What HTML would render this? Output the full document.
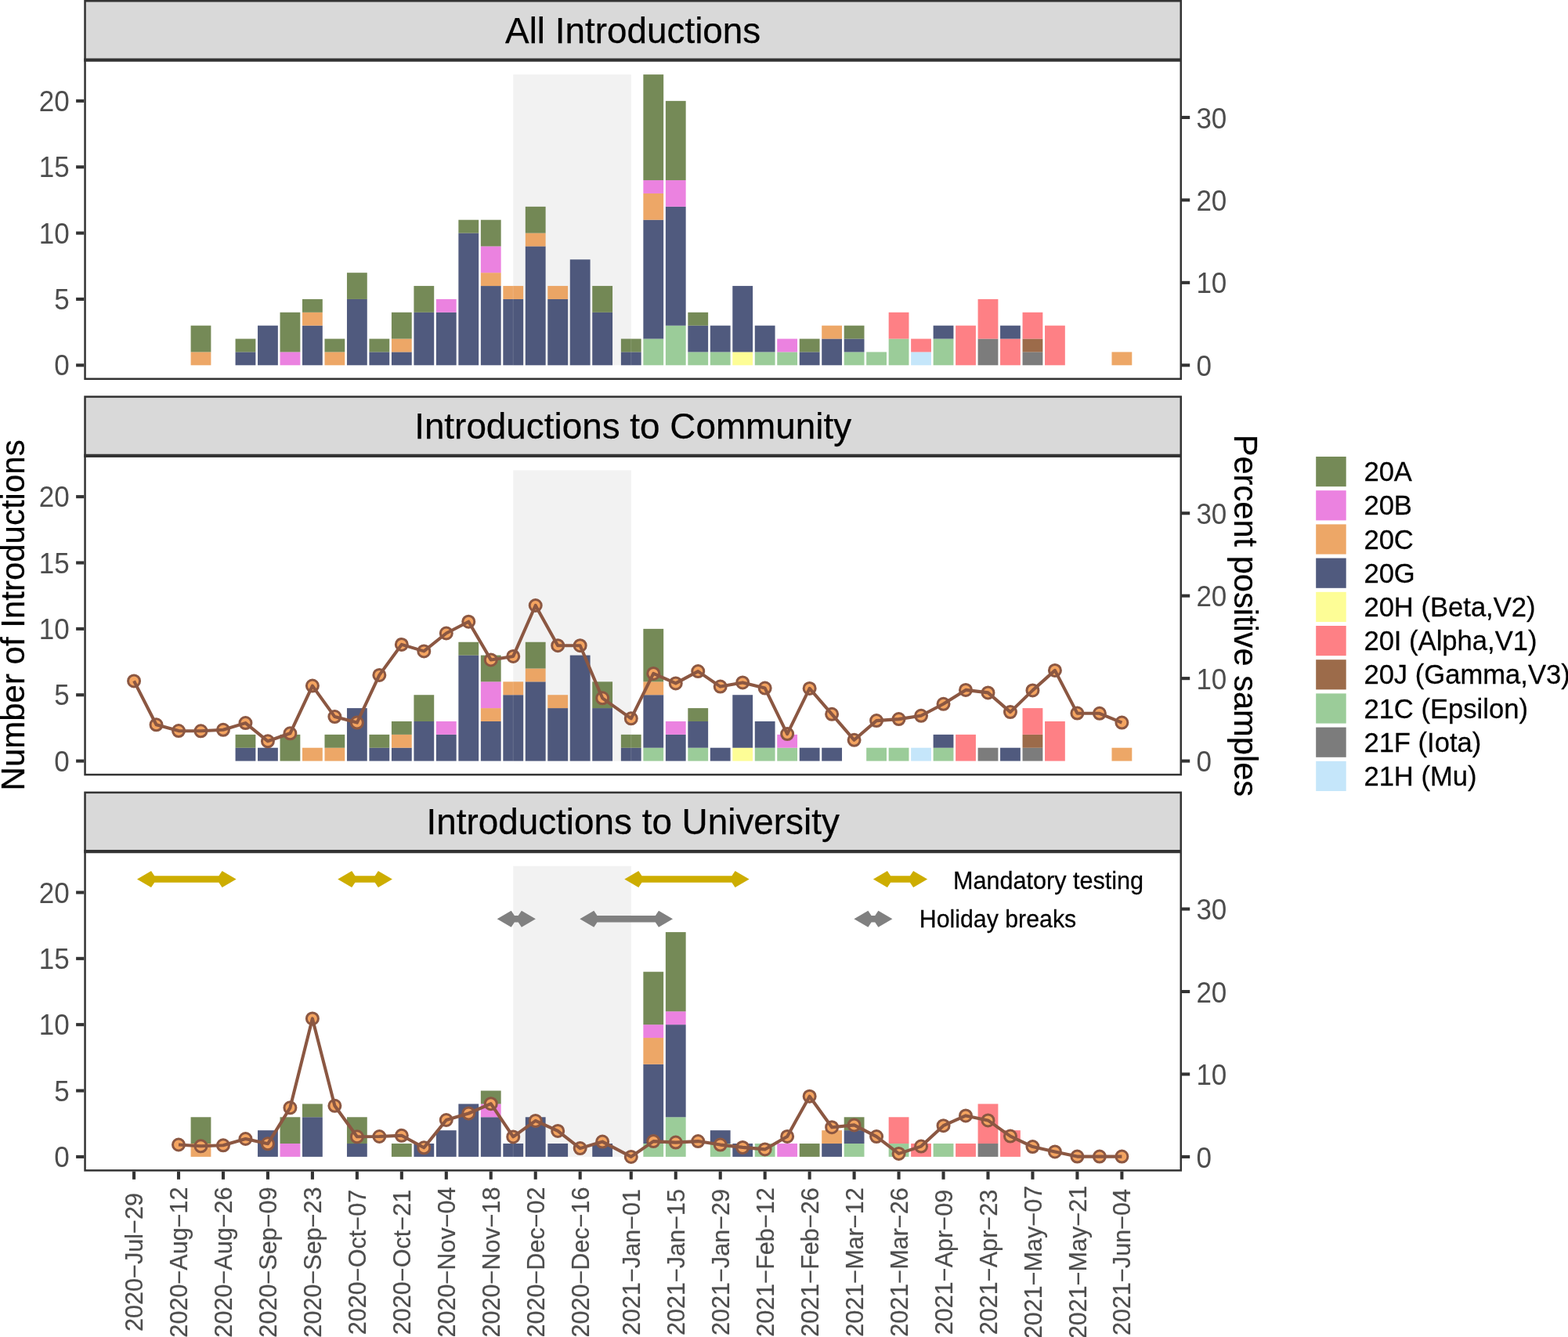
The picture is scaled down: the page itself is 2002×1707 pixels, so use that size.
<!DOCTYPE html>
<html lang="en"><head><meta charset="utf-8">
<title>Number of introductions by clade over time</title>
<style>
html,body{margin:0;padding:0;background:#fff;}
body{width:2002px;height:1707px;overflow:hidden;}
svg{display:block;}
text{font-family:"Liberation Sans", sans-serif;}
.tk{fill:#4d4d4d;}
.bk{fill:#000;stroke:#000;stroke-width:0.25px;}
</style></head><body>
<svg width="2002" height="1707" viewBox="0 0 2002 1707" role="img" aria-label="Number of introductions and percent positive samples over time">
<rect x="0" y="0" width="2002" height="1707" fill="#ffffff"/>
<g id="panel1">
<rect x="655.24" y="95.12" width="150.55" height="371.18" fill="#F2F2F2"/>
<g fill-opacity="0.8">
<rect x="243.59" y="449.43" width="25.8" height="16.87" fill="#E89141"/>
<rect x="243.59" y="415.68" width="25.8" height="33.74" fill="#536D2D"/>
<rect x="300.56" y="449.43" width="25.8" height="16.87" fill="#24315E"/>
<rect x="300.56" y="432.56" width="25.8" height="16.87" fill="#536D2D"/>
<rect x="329.04" y="415.68" width="25.8" height="50.62" fill="#24315E"/>
<rect x="357.52" y="449.43" width="25.8" height="16.87" fill="#E663D8"/>
<rect x="357.52" y="398.81" width="25.8" height="50.62" fill="#536D2D"/>
<rect x="386" y="415.68" width="25.8" height="50.62" fill="#24315E"/>
<rect x="386" y="398.81" width="25.8" height="16.87" fill="#E89141"/>
<rect x="386" y="381.94" width="25.8" height="16.87" fill="#536D2D"/>
<rect x="414.48" y="449.43" width="25.8" height="16.87" fill="#E89141"/>
<rect x="414.48" y="432.56" width="25.8" height="16.87" fill="#536D2D"/>
<rect x="442.97" y="381.94" width="25.8" height="84.36" fill="#24315E"/>
<rect x="442.97" y="348.2" width="25.8" height="33.74" fill="#536D2D"/>
<rect x="471.45" y="449.43" width="25.8" height="16.87" fill="#24315E"/>
<rect x="471.45" y="432.56" width="25.8" height="16.87" fill="#536D2D"/>
<rect x="499.93" y="449.43" width="25.8" height="16.87" fill="#24315E"/>
<rect x="499.93" y="432.56" width="25.8" height="16.87" fill="#E89141"/>
<rect x="499.93" y="398.81" width="25.8" height="33.74" fill="#536D2D"/>
<rect x="528.41" y="398.81" width="25.8" height="67.49" fill="#24315E"/>
<rect x="528.41" y="365.07" width="25.8" height="33.74" fill="#536D2D"/>
<rect x="556.89" y="398.81" width="25.8" height="67.49" fill="#24315E"/>
<rect x="556.89" y="381.94" width="25.8" height="16.87" fill="#E663D8"/>
<rect x="585.37" y="297.58" width="25.8" height="168.72" fill="#24315E"/>
<rect x="585.37" y="280.71" width="25.8" height="16.87" fill="#536D2D"/>
<rect x="613.86" y="365.07" width="25.8" height="101.23" fill="#24315E"/>
<rect x="613.86" y="348.2" width="25.8" height="16.87" fill="#E89141"/>
<rect x="613.86" y="314.45" width="25.8" height="33.74" fill="#E663D8"/>
<rect x="613.86" y="280.71" width="25.8" height="33.74" fill="#536D2D"/>
<rect x="642.34" y="381.94" width="25.8" height="84.36" fill="#24315E"/>
<rect x="642.34" y="365.07" width="25.8" height="16.87" fill="#E89141"/>
<rect x="670.82" y="314.45" width="25.8" height="151.85" fill="#24315E"/>
<rect x="670.82" y="297.58" width="25.8" height="16.87" fill="#E89141"/>
<rect x="670.82" y="263.84" width="25.8" height="33.74" fill="#536D2D"/>
<rect x="699.3" y="381.94" width="25.8" height="84.36" fill="#24315E"/>
<rect x="699.3" y="365.07" width="25.8" height="16.87" fill="#E89141"/>
<rect x="727.78" y="331.32" width="25.8" height="134.98" fill="#24315E"/>
<rect x="756.26" y="398.81" width="25.8" height="67.49" fill="#24315E"/>
<rect x="756.26" y="365.07" width="25.8" height="33.74" fill="#536D2D"/>
<rect x="792.88" y="449.43" width="25.8" height="16.87" fill="#24315E"/>
<rect x="792.88" y="432.56" width="25.8" height="16.87" fill="#536D2D"/>
<rect x="821.36" y="432.56" width="25.8" height="33.74" fill="#82BF80"/>
<rect x="821.36" y="280.71" width="25.8" height="151.85" fill="#24315E"/>
<rect x="821.36" y="246.96" width="25.8" height="33.74" fill="#E89141"/>
<rect x="821.36" y="230.09" width="25.8" height="16.87" fill="#E663D8"/>
<rect x="821.36" y="95.12" width="25.8" height="134.98" fill="#536D2D"/>
<rect x="849.85" y="415.68" width="25.8" height="50.62" fill="#82BF80"/>
<rect x="849.85" y="263.84" width="25.8" height="151.85" fill="#24315E"/>
<rect x="849.85" y="230.09" width="25.8" height="33.74" fill="#E663D8"/>
<rect x="849.85" y="128.86" width="25.8" height="101.23" fill="#536D2D"/>
<rect x="878.33" y="449.43" width="25.8" height="16.87" fill="#82BF80"/>
<rect x="878.33" y="415.68" width="25.8" height="33.74" fill="#24315E"/>
<rect x="878.33" y="398.81" width="25.8" height="16.87" fill="#536D2D"/>
<rect x="906.81" y="449.43" width="25.8" height="16.87" fill="#82BF80"/>
<rect x="906.81" y="415.68" width="25.8" height="33.74" fill="#24315E"/>
<rect x="935.29" y="449.43" width="25.8" height="16.87" fill="#FCFC7C"/>
<rect x="935.29" y="365.07" width="25.8" height="84.36" fill="#24315E"/>
<rect x="963.77" y="449.43" width="25.8" height="16.87" fill="#82BF80"/>
<rect x="963.77" y="415.68" width="25.8" height="33.74" fill="#24315E"/>
<rect x="992.25" y="449.43" width="25.8" height="16.87" fill="#82BF80"/>
<rect x="992.25" y="432.56" width="25.8" height="16.87" fill="#E663D8"/>
<rect x="1020.74" y="449.43" width="25.8" height="16.87" fill="#24315E"/>
<rect x="1020.74" y="432.56" width="25.8" height="16.87" fill="#536D2D"/>
<rect x="1049.22" y="432.56" width="25.8" height="33.74" fill="#24315E"/>
<rect x="1049.22" y="415.68" width="25.8" height="16.87" fill="#E89141"/>
<rect x="1077.7" y="449.43" width="25.8" height="16.87" fill="#82BF80"/>
<rect x="1077.7" y="432.56" width="25.8" height="16.87" fill="#24315E"/>
<rect x="1077.7" y="415.68" width="25.8" height="16.87" fill="#536D2D"/>
<rect x="1106.18" y="449.43" width="25.8" height="16.87" fill="#82BF80"/>
<rect x="1134.66" y="432.56" width="25.8" height="33.74" fill="#82BF80"/>
<rect x="1134.66" y="398.81" width="25.8" height="33.74" fill="#FE6067"/>
<rect x="1163.14" y="449.43" width="25.8" height="16.87" fill="#B6E0F9"/>
<rect x="1163.14" y="432.56" width="25.8" height="16.87" fill="#FE6067"/>
<rect x="1191.63" y="432.56" width="25.8" height="33.74" fill="#82BF80"/>
<rect x="1191.63" y="415.68" width="25.8" height="16.87" fill="#24315E"/>
<rect x="1220.11" y="415.68" width="25.8" height="50.62" fill="#FE6067"/>
<rect x="1248.59" y="432.56" width="25.8" height="33.74" fill="#5B5B5B"/>
<rect x="1248.59" y="381.94" width="25.8" height="50.62" fill="#FE6067"/>
<rect x="1277.07" y="432.56" width="25.8" height="33.74" fill="#FE6067"/>
<rect x="1277.07" y="415.68" width="25.8" height="16.87" fill="#24315E"/>
<rect x="1305.55" y="449.43" width="25.8" height="16.87" fill="#5B5B5B"/>
<rect x="1305.55" y="432.56" width="25.8" height="16.87" fill="#83461D"/>
<rect x="1305.55" y="398.81" width="25.8" height="33.74" fill="#FE6067"/>
<rect x="1334.03" y="415.68" width="25.8" height="50.62" fill="#FE6067"/>
<rect x="1419.48" y="449.43" width="25.8" height="16.87" fill="#E89141"/>
</g>
<line x1="655.24" y1="365.07" x2="655.24" y2="466.3" stroke="#ffffff" stroke-opacity="0.16" stroke-width="0.9"/>
<line x1="805.78" y1="432.56" x2="805.78" y2="466.3" stroke="#ffffff" stroke-opacity="0.16" stroke-width="0.9"/>
<rect x="107.3" y="0" width="1401.7" height="76.6" fill="#D9D9D9"/>
<text class="bk" x="808.15" y="54.8" font-size="45.85" text-anchor="middle">All Introductions</text>
<rect x="108.55" y="1.25" width="1399.2" height="482.5" fill="none" stroke="#333333" stroke-width="2.5"/>
<line x1="107.3" y1="76.6" x2="1509" y2="76.6" stroke="#333333" stroke-width="4.2"/>
<g stroke="#333333" stroke-width="4.1">
<line x1="97.1" y1="466.3" x2="107.3" y2="466.3"/>
<line x1="97.1" y1="381.94" x2="107.3" y2="381.94"/>
<line x1="97.1" y1="297.58" x2="107.3" y2="297.58"/>
<line x1="97.1" y1="213.22" x2="107.3" y2="213.22"/>
<line x1="97.1" y1="128.86" x2="107.3" y2="128.86"/>
<line x1="1509" y1="466.3" x2="1519.2" y2="466.3"/>
<line x1="1509" y1="360.85" x2="1519.2" y2="360.85"/>
<line x1="1509" y1="255.4" x2="1519.2" y2="255.4"/>
<line x1="1509" y1="149.95" x2="1519.2" y2="149.95"/>
</g>
<g class="tk" font-size="35" text-anchor="end">
<text transform="translate(88.6 479.4) scale(1 1.04)">0</text>
<text transform="translate(88.6 395.04) scale(1 1.04)">5</text>
<text transform="translate(88.6 310.68) scale(1 1.04)">10</text>
<text transform="translate(88.6 226.32) scale(1 1.04)">15</text>
<text transform="translate(88.6 141.96) scale(1 1.04)">20</text>
</g>
<g class="tk" font-size="35">
<text transform="translate(1527.4 479.9) scale(1 1.04)">0</text>
<text transform="translate(1527.4 374.45) scale(1 1.04)">10</text>
<text transform="translate(1527.4 269) scale(1 1.04)">20</text>
<text transform="translate(1527.4 163.55) scale(1 1.04)">30</text>
</g>
</g>
<g id="panel2">
<rect x="655.24" y="600.42" width="150.55" height="371.18" fill="#F2F2F2"/>
<g fill-opacity="0.8">
<rect x="300.56" y="954.73" width="25.8" height="16.87" fill="#24315E"/>
<rect x="300.56" y="937.86" width="25.8" height="16.87" fill="#536D2D"/>
<rect x="329.04" y="954.73" width="25.8" height="16.87" fill="#24315E"/>
<rect x="357.52" y="937.86" width="25.8" height="33.74" fill="#536D2D"/>
<rect x="386" y="954.73" width="25.8" height="16.87" fill="#E89141"/>
<rect x="414.48" y="954.73" width="25.8" height="16.87" fill="#E89141"/>
<rect x="414.48" y="937.86" width="25.8" height="16.87" fill="#536D2D"/>
<rect x="442.97" y="904.11" width="25.8" height="67.49" fill="#24315E"/>
<rect x="471.45" y="954.73" width="25.8" height="16.87" fill="#24315E"/>
<rect x="471.45" y="937.86" width="25.8" height="16.87" fill="#536D2D"/>
<rect x="499.93" y="954.73" width="25.8" height="16.87" fill="#24315E"/>
<rect x="499.93" y="937.86" width="25.8" height="16.87" fill="#E89141"/>
<rect x="499.93" y="920.98" width="25.8" height="16.87" fill="#536D2D"/>
<rect x="528.41" y="920.98" width="25.8" height="50.62" fill="#24315E"/>
<rect x="528.41" y="887.24" width="25.8" height="33.74" fill="#536D2D"/>
<rect x="556.89" y="937.86" width="25.8" height="33.74" fill="#24315E"/>
<rect x="556.89" y="920.98" width="25.8" height="16.87" fill="#E663D8"/>
<rect x="585.37" y="836.62" width="25.8" height="134.98" fill="#24315E"/>
<rect x="585.37" y="819.75" width="25.8" height="16.87" fill="#536D2D"/>
<rect x="613.86" y="920.98" width="25.8" height="50.62" fill="#24315E"/>
<rect x="613.86" y="904.11" width="25.8" height="16.87" fill="#E89141"/>
<rect x="613.86" y="870.37" width="25.8" height="33.74" fill="#E663D8"/>
<rect x="613.86" y="836.62" width="25.8" height="33.74" fill="#536D2D"/>
<rect x="642.34" y="887.24" width="25.8" height="84.36" fill="#24315E"/>
<rect x="642.34" y="870.37" width="25.8" height="16.87" fill="#E89141"/>
<rect x="670.82" y="870.37" width="25.8" height="101.23" fill="#24315E"/>
<rect x="670.82" y="853.5" width="25.8" height="16.87" fill="#E89141"/>
<rect x="670.82" y="819.75" width="25.8" height="33.74" fill="#536D2D"/>
<rect x="699.3" y="904.11" width="25.8" height="67.49" fill="#24315E"/>
<rect x="699.3" y="887.24" width="25.8" height="16.87" fill="#E89141"/>
<rect x="727.78" y="836.62" width="25.8" height="134.98" fill="#24315E"/>
<rect x="756.26" y="904.11" width="25.8" height="67.49" fill="#24315E"/>
<rect x="756.26" y="870.37" width="25.8" height="33.74" fill="#536D2D"/>
<rect x="792.88" y="954.73" width="25.8" height="16.87" fill="#24315E"/>
<rect x="792.88" y="937.86" width="25.8" height="16.87" fill="#536D2D"/>
<rect x="821.36" y="954.73" width="25.8" height="16.87" fill="#82BF80"/>
<rect x="821.36" y="887.24" width="25.8" height="67.49" fill="#24315E"/>
<rect x="821.36" y="870.37" width="25.8" height="16.87" fill="#E89141"/>
<rect x="821.36" y="802.88" width="25.8" height="67.49" fill="#536D2D"/>
<rect x="849.85" y="937.86" width="25.8" height="33.74" fill="#24315E"/>
<rect x="849.85" y="920.98" width="25.8" height="16.87" fill="#E663D8"/>
<rect x="878.33" y="954.73" width="25.8" height="16.87" fill="#82BF80"/>
<rect x="878.33" y="920.98" width="25.8" height="33.74" fill="#24315E"/>
<rect x="878.33" y="904.11" width="25.8" height="16.87" fill="#536D2D"/>
<rect x="906.81" y="954.73" width="25.8" height="16.87" fill="#24315E"/>
<rect x="935.29" y="954.73" width="25.8" height="16.87" fill="#FCFC7C"/>
<rect x="935.29" y="887.24" width="25.8" height="67.49" fill="#24315E"/>
<rect x="963.77" y="954.73" width="25.8" height="16.87" fill="#82BF80"/>
<rect x="963.77" y="920.98" width="25.8" height="33.74" fill="#24315E"/>
<rect x="992.25" y="954.73" width="25.8" height="16.87" fill="#82BF80"/>
<rect x="992.25" y="937.86" width="25.8" height="16.87" fill="#E663D8"/>
<rect x="1020.74" y="954.73" width="25.8" height="16.87" fill="#24315E"/>
<rect x="1049.22" y="954.73" width="25.8" height="16.87" fill="#24315E"/>
<rect x="1106.18" y="954.73" width="25.8" height="16.87" fill="#82BF80"/>
<rect x="1134.66" y="954.73" width="25.8" height="16.87" fill="#82BF80"/>
<rect x="1163.14" y="954.73" width="25.8" height="16.87" fill="#B6E0F9"/>
<rect x="1191.63" y="954.73" width="25.8" height="16.87" fill="#82BF80"/>
<rect x="1191.63" y="937.86" width="25.8" height="16.87" fill="#24315E"/>
<rect x="1220.11" y="937.86" width="25.8" height="33.74" fill="#FE6067"/>
<rect x="1248.59" y="954.73" width="25.8" height="16.87" fill="#5B5B5B"/>
<rect x="1277.07" y="954.73" width="25.8" height="16.87" fill="#24315E"/>
<rect x="1305.55" y="954.73" width="25.8" height="16.87" fill="#5B5B5B"/>
<rect x="1305.55" y="937.86" width="25.8" height="16.87" fill="#83461D"/>
<rect x="1305.55" y="904.11" width="25.8" height="33.74" fill="#FE6067"/>
<rect x="1334.03" y="920.98" width="25.8" height="50.62" fill="#FE6067"/>
<rect x="1419.48" y="954.73" width="25.8" height="16.87" fill="#E89141"/>
</g>
<line x1="655.24" y1="870.37" x2="655.24" y2="971.6" stroke="#ffffff" stroke-opacity="0.16" stroke-width="0.9"/>
<line x1="805.78" y1="937.86" x2="805.78" y2="971.6" stroke="#ffffff" stroke-opacity="0.16" stroke-width="0.9"/>
<g fill="#F4A460" stroke="#8B5742" stroke-width="3">
<circle cx="171.05" cy="869.4" r="7.5"/>
<circle cx="199.53" cy="925.3" r="7.5"/>
<circle cx="228.01" cy="933.1" r="7.5"/>
<circle cx="256.49" cy="933.3" r="7.5"/>
<circle cx="284.98" cy="931.8" r="7.5"/>
<circle cx="313.46" cy="923.1" r="7.5"/>
<circle cx="341.94" cy="946.3" r="7.5"/>
<circle cx="370.42" cy="936.3" r="7.5"/>
<circle cx="398.9" cy="875.6" r="7.5"/>
<circle cx="427.38" cy="915.1" r="7.5"/>
<circle cx="455.87" cy="922.6" r="7.5"/>
<circle cx="484.35" cy="861.9" r="7.5"/>
<circle cx="512.83" cy="822.9" r="7.5"/>
<circle cx="541.31" cy="831.4" r="7.5"/>
<circle cx="569.79" cy="808.5" r="7.5"/>
<circle cx="598.27" cy="793.7" r="7.5"/>
<circle cx="626.76" cy="842.4" r="7.5"/>
<circle cx="655.24" cy="837.9" r="7.5"/>
<circle cx="683.72" cy="773" r="7.5"/>
<circle cx="712.2" cy="824.2" r="7.5"/>
<circle cx="740.68" cy="824.2" r="7.5"/>
<circle cx="769.16" cy="891.3" r="7.5"/>
<circle cx="805.78" cy="917.3" r="7.5"/>
<circle cx="834.26" cy="859.9" r="7.5"/>
<circle cx="862.75" cy="872.4" r="7.5"/>
<circle cx="891.23" cy="857.1" r="7.5"/>
<circle cx="919.71" cy="876.6" r="7.5"/>
<circle cx="948.19" cy="871.4" r="7.5"/>
<circle cx="976.67" cy="878.6" r="7.5"/>
<circle cx="1005.15" cy="937.1" r="7.5"/>
<circle cx="1033.64" cy="878.9" r="7.5"/>
<circle cx="1062.12" cy="911.8" r="7.5"/>
<circle cx="1090.6" cy="944.8" r="7.5"/>
<circle cx="1119.08" cy="920.1" r="7.5"/>
<circle cx="1147.56" cy="918.1" r="7.5"/>
<circle cx="1176.04" cy="913.8" r="7.5"/>
<circle cx="1204.53" cy="898.8" r="7.5"/>
<circle cx="1233.01" cy="880.9" r="7.5"/>
<circle cx="1261.49" cy="884.4" r="7.5"/>
<circle cx="1289.97" cy="909.1" r="7.5"/>
<circle cx="1318.45" cy="881.4" r="7.5"/>
<circle cx="1346.93" cy="855.9" r="7.5"/>
<circle cx="1375.41" cy="910.6" r="7.5"/>
<circle cx="1403.9" cy="910.8" r="7.5"/>
<circle cx="1432.38" cy="922.6" r="7.5"/>
</g>
<polyline fill="none" stroke="#8B5742" stroke-width="4.1" stroke-linejoin="round" points="171.05,869.4 199.53,925.3 228.01,933.1 256.49,933.3 284.98,931.8 313.46,923.1 341.94,946.3 370.42,936.3 398.9,875.6 427.38,915.1 455.87,922.6 484.35,861.9 512.83,822.9 541.31,831.4 569.79,808.5 598.27,793.7 626.76,842.4 655.24,837.9 683.72,773 712.2,824.2 740.68,824.2 769.16,891.3 805.78,917.3 834.26,859.9 862.75,872.4 891.23,857.1 919.71,876.6 948.19,871.4 976.67,878.6 1005.15,937.1 1033.64,878.9 1062.12,911.8 1090.6,944.8 1119.08,920.1 1147.56,918.1 1176.04,913.8 1204.53,898.8 1233.01,880.9 1261.49,884.4 1289.97,909.1 1318.45,881.4 1346.93,855.9 1375.41,910.6 1403.9,910.8 1432.38,922.6"/>
<rect x="107.3" y="505.3" width="1401.7" height="76.6" fill="#D9D9D9"/>
<text class="bk" x="808.15" y="560.1" font-size="45.85" text-anchor="middle">Introductions to Community</text>
<rect x="108.55" y="506.55" width="1399.2" height="482.5" fill="none" stroke="#333333" stroke-width="2.5"/>
<line x1="107.3" y1="581.9" x2="1509" y2="581.9" stroke="#333333" stroke-width="4.2"/>
<g stroke="#333333" stroke-width="4.1">
<line x1="97.1" y1="971.6" x2="107.3" y2="971.6"/>
<line x1="97.1" y1="887.24" x2="107.3" y2="887.24"/>
<line x1="97.1" y1="802.88" x2="107.3" y2="802.88"/>
<line x1="97.1" y1="718.52" x2="107.3" y2="718.52"/>
<line x1="97.1" y1="634.16" x2="107.3" y2="634.16"/>
<line x1="1509" y1="971.6" x2="1519.2" y2="971.6"/>
<line x1="1509" y1="866.15" x2="1519.2" y2="866.15"/>
<line x1="1509" y1="760.7" x2="1519.2" y2="760.7"/>
<line x1="1509" y1="655.25" x2="1519.2" y2="655.25"/>
</g>
<g class="tk" font-size="35" text-anchor="end">
<text transform="translate(88.6 984.7) scale(1 1.04)">0</text>
<text transform="translate(88.6 900.34) scale(1 1.04)">5</text>
<text transform="translate(88.6 815.98) scale(1 1.04)">10</text>
<text transform="translate(88.6 731.62) scale(1 1.04)">15</text>
<text transform="translate(88.6 647.26) scale(1 1.04)">20</text>
</g>
<g class="tk" font-size="35">
<text transform="translate(1527.4 985.2) scale(1 1.04)">0</text>
<text transform="translate(1527.4 879.75) scale(1 1.04)">10</text>
<text transform="translate(1527.4 774.3) scale(1 1.04)">20</text>
<text transform="translate(1527.4 668.85) scale(1 1.04)">30</text>
</g>
</g>
<g id="panel3">
<rect x="655.24" y="1105.72" width="150.55" height="371.18" fill="#F2F2F2"/>
<g fill-opacity="0.8">
<rect x="243.59" y="1460.03" width="25.8" height="16.87" fill="#E89141"/>
<rect x="243.59" y="1426.28" width="25.8" height="33.74" fill="#536D2D"/>
<rect x="329.04" y="1443.16" width="25.8" height="33.74" fill="#24315E"/>
<rect x="357.52" y="1460.03" width="25.8" height="16.87" fill="#E663D8"/>
<rect x="357.52" y="1426.28" width="25.8" height="33.74" fill="#536D2D"/>
<rect x="386" y="1426.28" width="25.8" height="50.62" fill="#24315E"/>
<rect x="386" y="1409.41" width="25.8" height="16.87" fill="#536D2D"/>
<rect x="442.97" y="1460.03" width="25.8" height="16.87" fill="#24315E"/>
<rect x="442.97" y="1426.28" width="25.8" height="33.74" fill="#536D2D"/>
<rect x="499.93" y="1460.03" width="25.8" height="16.87" fill="#536D2D"/>
<rect x="528.41" y="1460.03" width="25.8" height="16.87" fill="#24315E"/>
<rect x="556.89" y="1443.16" width="25.8" height="33.74" fill="#24315E"/>
<rect x="585.37" y="1409.41" width="25.8" height="67.49" fill="#24315E"/>
<rect x="613.86" y="1426.28" width="25.8" height="50.62" fill="#24315E"/>
<rect x="613.86" y="1409.41" width="25.8" height="16.87" fill="#E663D8"/>
<rect x="613.86" y="1392.54" width="25.8" height="16.87" fill="#536D2D"/>
<rect x="642.34" y="1460.03" width="25.8" height="16.87" fill="#24315E"/>
<rect x="670.82" y="1426.28" width="25.8" height="50.62" fill="#24315E"/>
<rect x="699.3" y="1460.03" width="25.8" height="16.87" fill="#24315E"/>
<rect x="756.26" y="1460.03" width="25.8" height="16.87" fill="#24315E"/>
<rect x="821.36" y="1460.03" width="25.8" height="16.87" fill="#82BF80"/>
<rect x="821.36" y="1358.8" width="25.8" height="101.23" fill="#24315E"/>
<rect x="821.36" y="1325.05" width="25.8" height="33.74" fill="#E89141"/>
<rect x="821.36" y="1308.18" width="25.8" height="16.87" fill="#E663D8"/>
<rect x="821.36" y="1240.69" width="25.8" height="67.49" fill="#536D2D"/>
<rect x="849.85" y="1426.28" width="25.8" height="50.62" fill="#82BF80"/>
<rect x="849.85" y="1308.18" width="25.8" height="118.1" fill="#24315E"/>
<rect x="849.85" y="1291.31" width="25.8" height="16.87" fill="#E663D8"/>
<rect x="849.85" y="1190.08" width="25.8" height="101.23" fill="#536D2D"/>
<rect x="906.81" y="1460.03" width="25.8" height="16.87" fill="#82BF80"/>
<rect x="906.81" y="1443.16" width="25.8" height="16.87" fill="#24315E"/>
<rect x="935.29" y="1460.03" width="25.8" height="16.87" fill="#24315E"/>
<rect x="963.77" y="1460.03" width="25.8" height="16.87" fill="#82BF80"/>
<rect x="992.25" y="1460.03" width="25.8" height="16.87" fill="#E663D8"/>
<rect x="1020.74" y="1460.03" width="25.8" height="16.87" fill="#536D2D"/>
<rect x="1049.22" y="1460.03" width="25.8" height="16.87" fill="#24315E"/>
<rect x="1049.22" y="1443.16" width="25.8" height="16.87" fill="#E89141"/>
<rect x="1077.7" y="1460.03" width="25.8" height="16.87" fill="#82BF80"/>
<rect x="1077.7" y="1443.16" width="25.8" height="16.87" fill="#24315E"/>
<rect x="1077.7" y="1426.28" width="25.8" height="16.87" fill="#536D2D"/>
<rect x="1134.66" y="1460.03" width="25.8" height="16.87" fill="#82BF80"/>
<rect x="1134.66" y="1426.28" width="25.8" height="33.74" fill="#FE6067"/>
<rect x="1163.14" y="1460.03" width="25.8" height="16.87" fill="#FE6067"/>
<rect x="1191.63" y="1460.03" width="25.8" height="16.87" fill="#82BF80"/>
<rect x="1220.11" y="1460.03" width="25.8" height="16.87" fill="#FE6067"/>
<rect x="1248.59" y="1460.03" width="25.8" height="16.87" fill="#5B5B5B"/>
<rect x="1248.59" y="1409.41" width="25.8" height="50.62" fill="#FE6067"/>
<rect x="1277.07" y="1443.16" width="25.8" height="33.74" fill="#FE6067"/>
</g>
<line x1="655.24" y1="1460.03" x2="655.24" y2="1476.9" stroke="#ffffff" stroke-opacity="0.16" stroke-width="0.9"/>
<polygon fill="#CDAD00" points="175,1122.5 193,1112 197.2,1118.2 279.4,1118.2 283.6,1112 301.6,1122.5 283.6,1133 279.4,1126.8 197.2,1126.8 193,1133"/>
<polygon fill="#CDAD00" points="431.2,1122.5 449.2,1112 453.4,1118.2 478.7,1118.2 482.9,1112 500.9,1122.5 482.9,1133 478.7,1126.8 453.4,1126.8 449.2,1133"/>
<polygon fill="#CDAD00" points="797.3,1122.5 815.3,1112 819.5,1118.2 934.4,1118.2 938.6,1112 956.6,1122.5 938.6,1133 934.4,1126.8 819.5,1126.8 815.3,1133"/>
<polygon fill="#CDAD00" points="1114.9,1122.5 1132.9,1112 1137.1,1118.2 1161.9,1118.2 1166.1,1112 1184.1,1122.5 1166.1,1133 1161.9,1126.8 1137.1,1126.8 1132.9,1133"/>
<polygon fill="#808080" points="634.7,1173.2 652.7,1162.7 656.9,1168.9 661.7,1168.9 665.9,1162.7 683.9,1173.2 665.9,1183.7 661.7,1177.5 656.9,1177.5 652.7,1183.7"/>
<polygon fill="#808080" points="740.3,1173.2 758.3,1162.7 762.5,1168.9 836.8,1168.9 841,1162.7 859,1173.2 841,1183.7 836.8,1177.5 762.5,1177.5 758.3,1183.7"/>
<polygon fill="#808080" points="1090.4,1173.2 1108.4,1162.7 1112.6,1168.9 1117.2,1168.9 1121.4,1162.7 1139.4,1173.2 1121.4,1183.7 1117.2,1177.5 1112.6,1177.5 1108.4,1183.7"/>
<text class="bk" transform="translate(1217 1134.5) scale(1 1.035)" font-size="30.6">Mandatory testing</text>
<text class="bk" transform="translate(1173.8 1184.4) scale(1 1.035)" font-size="30.3">Holiday breaks</text>
<g fill="#F4A460" stroke="#8B5742" stroke-width="3">
<circle cx="228.01" cy="1461.5" r="7.5"/>
<circle cx="256.49" cy="1463.3" r="7.5"/>
<circle cx="284.98" cy="1462.3" r="7.5"/>
<circle cx="313.46" cy="1454" r="7.5"/>
<circle cx="341.94" cy="1460.3" r="7.5"/>
<circle cx="370.42" cy="1414.3" r="7.5"/>
<circle cx="398.9" cy="1300.4" r="7.5"/>
<circle cx="427.38" cy="1411.8" r="7.5"/>
<circle cx="455.87" cy="1451.3" r="7.5"/>
<circle cx="484.35" cy="1451" r="7.5"/>
<circle cx="512.83" cy="1449.8" r="7.5"/>
<circle cx="541.31" cy="1465.3" r="7.5"/>
<circle cx="569.79" cy="1430" r="7.5"/>
<circle cx="598.27" cy="1421.5" r="7.5"/>
<circle cx="626.76" cy="1409.2" r="7.5"/>
<circle cx="655.24" cy="1451.4" r="7.5"/>
<circle cx="683.72" cy="1430.9" r="7.5"/>
<circle cx="712.2" cy="1443.9" r="7.5"/>
<circle cx="740.68" cy="1466.1" r="7.5"/>
<circle cx="769.16" cy="1457.6" r="7.5"/>
<circle cx="805.78" cy="1476.9" r="7.5"/>
<circle cx="834.26" cy="1457.1" r="7.5"/>
<circle cx="862.75" cy="1458.6" r="7.5"/>
<circle cx="891.23" cy="1457.1" r="7.5"/>
<circle cx="919.71" cy="1461.6" r="7.5"/>
<circle cx="948.19" cy="1464.9" r="7.5"/>
<circle cx="976.67" cy="1467.4" r="7.5"/>
<circle cx="1005.15" cy="1450.9" r="7.5"/>
<circle cx="1033.64" cy="1399.7" r="7.5"/>
<circle cx="1062.12" cy="1439.2" r="7.5"/>
<circle cx="1090.6" cy="1436.4" r="7.5"/>
<circle cx="1119.08" cy="1451.1" r="7.5"/>
<circle cx="1147.56" cy="1472.9" r="7.5"/>
<circle cx="1176.04" cy="1463.6" r="7.5"/>
<circle cx="1204.53" cy="1437.2" r="7.5"/>
<circle cx="1233.01" cy="1424.4" r="7.5"/>
<circle cx="1261.49" cy="1430.4" r="7.5"/>
<circle cx="1289.97" cy="1450.6" r="7.5"/>
<circle cx="1318.45" cy="1464.1" r="7.5"/>
<circle cx="1346.93" cy="1470.4" r="7.5"/>
<circle cx="1375.41" cy="1476.6" r="7.5"/>
<circle cx="1403.9" cy="1476.6" r="7.5"/>
<circle cx="1432.38" cy="1476.6" r="7.5"/>
</g>
<polyline fill="none" stroke="#8B5742" stroke-width="4.1" stroke-linejoin="round" points="228.01,1461.5 256.49,1463.3 284.98,1462.3 313.46,1454 341.94,1460.3 370.42,1414.3 398.9,1300.4 427.38,1411.8 455.87,1451.3 484.35,1451 512.83,1449.8 541.31,1465.3 569.79,1430 598.27,1421.5 626.76,1409.2 655.24,1451.4 683.72,1430.9 712.2,1443.9 740.68,1466.1 769.16,1457.6 805.78,1476.9 834.26,1457.1 862.75,1458.6 891.23,1457.1 919.71,1461.6 948.19,1464.9 976.67,1467.4 1005.15,1450.9 1033.64,1399.7 1062.12,1439.2 1090.6,1436.4 1119.08,1451.1 1147.56,1472.9 1176.04,1463.6 1204.53,1437.2 1233.01,1424.4 1261.49,1430.4 1289.97,1450.6 1318.45,1464.1 1346.93,1470.4 1375.41,1476.6 1403.9,1476.6 1432.38,1476.6"/>
<rect x="107.3" y="1010.6" width="1401.7" height="76.6" fill="#D9D9D9"/>
<text class="bk" x="808.15" y="1065.4" font-size="45.85" text-anchor="middle">Introductions to University</text>
<rect x="108.55" y="1011.85" width="1399.2" height="482.5" fill="none" stroke="#333333" stroke-width="2.5"/>
<line x1="107.3" y1="1087.2" x2="1509" y2="1087.2" stroke="#333333" stroke-width="4.2"/>
<g stroke="#333333" stroke-width="4.1">
<line x1="97.1" y1="1476.9" x2="107.3" y2="1476.9"/>
<line x1="97.1" y1="1392.54" x2="107.3" y2="1392.54"/>
<line x1="97.1" y1="1308.18" x2="107.3" y2="1308.18"/>
<line x1="97.1" y1="1223.82" x2="107.3" y2="1223.82"/>
<line x1="97.1" y1="1139.46" x2="107.3" y2="1139.46"/>
<line x1="1509" y1="1476.9" x2="1519.2" y2="1476.9"/>
<line x1="1509" y1="1371.45" x2="1519.2" y2="1371.45"/>
<line x1="1509" y1="1266" x2="1519.2" y2="1266"/>
<line x1="1509" y1="1160.55" x2="1519.2" y2="1160.55"/>
<line x1="171.05" y1="1495.6" x2="171.05" y2="1505.8"/>
<line x1="228.01" y1="1495.6" x2="228.01" y2="1505.8"/>
<line x1="284.98" y1="1495.6" x2="284.98" y2="1505.8"/>
<line x1="341.94" y1="1495.6" x2="341.94" y2="1505.8"/>
<line x1="398.9" y1="1495.6" x2="398.9" y2="1505.8"/>
<line x1="455.87" y1="1495.6" x2="455.87" y2="1505.8"/>
<line x1="512.83" y1="1495.6" x2="512.83" y2="1505.8"/>
<line x1="569.79" y1="1495.6" x2="569.79" y2="1505.8"/>
<line x1="626.76" y1="1495.6" x2="626.76" y2="1505.8"/>
<line x1="683.72" y1="1495.6" x2="683.72" y2="1505.8"/>
<line x1="740.68" y1="1495.6" x2="740.68" y2="1505.8"/>
<line x1="805.78" y1="1495.6" x2="805.78" y2="1505.8"/>
<line x1="862.75" y1="1495.6" x2="862.75" y2="1505.8"/>
<line x1="919.71" y1="1495.6" x2="919.71" y2="1505.8"/>
<line x1="976.67" y1="1495.6" x2="976.67" y2="1505.8"/>
<line x1="1033.64" y1="1495.6" x2="1033.64" y2="1505.8"/>
<line x1="1090.6" y1="1495.6" x2="1090.6" y2="1505.8"/>
<line x1="1147.56" y1="1495.6" x2="1147.56" y2="1505.8"/>
<line x1="1204.53" y1="1495.6" x2="1204.53" y2="1505.8"/>
<line x1="1261.49" y1="1495.6" x2="1261.49" y2="1505.8"/>
<line x1="1318.45" y1="1495.6" x2="1318.45" y2="1505.8"/>
<line x1="1375.41" y1="1495.6" x2="1375.41" y2="1505.8"/>
<line x1="1432.38" y1="1495.6" x2="1432.38" y2="1505.8"/>
</g>
<g class="tk" font-size="35" text-anchor="end">
<text transform="translate(88.6 1490) scale(1 1.04)">0</text>
<text transform="translate(88.6 1405.64) scale(1 1.04)">5</text>
<text transform="translate(88.6 1321.28) scale(1 1.04)">10</text>
<text transform="translate(88.6 1236.92) scale(1 1.04)">15</text>
<text transform="translate(88.6 1152.56) scale(1 1.04)">20</text>
</g>
<g class="tk" font-size="35">
<text transform="translate(1527.4 1490.5) scale(1 1.04)">0</text>
<text transform="translate(1527.4 1385.05) scale(1 1.04)">10</text>
<text transform="translate(1527.4 1279.6) scale(1 1.04)">20</text>
<text transform="translate(1527.4 1174.15) scale(1 1.04)">30</text>
</g>
<g class="tk" font-size="30.6" text-anchor="middle" stroke="#4d4d4d" stroke-width="0.2">
<text transform="translate(182.15 1611.5) rotate(-90)">2020−Jul−29</text>
<text transform="translate(239.11 1611.5) rotate(-90)">2020−Aug−12</text>
<text transform="translate(296.08 1611.5) rotate(-90)">2020−Aug−26</text>
<text transform="translate(353.04 1611.5) rotate(-90)">2020−Sep−09</text>
<text transform="translate(410 1611.5) rotate(-90)">2020−Sep−23</text>
<text transform="translate(466.97 1611.5) rotate(-90)">2020−Oct−07</text>
<text transform="translate(523.93 1611.5) rotate(-90)">2020−Oct−21</text>
<text transform="translate(580.89 1611.5) rotate(-90)">2020−Nov−04</text>
<text transform="translate(637.86 1611.5) rotate(-90)">2020−Nov−18</text>
<text transform="translate(694.82 1611.5) rotate(-90)">2020−Dec−02</text>
<text transform="translate(751.78 1611.5) rotate(-90)">2020−Dec−16</text>
<text transform="translate(816.88 1611.5) rotate(-90)">2021−Jan−01</text>
<text transform="translate(873.85 1611.5) rotate(-90)">2021−Jan−15</text>
<text transform="translate(930.81 1611.5) rotate(-90)">2021−Jan−29</text>
<text transform="translate(987.77 1611.5) rotate(-90)">2021−Feb−12</text>
<text transform="translate(1044.74 1611.5) rotate(-90)">2021−Feb−26</text>
<text transform="translate(1101.7 1611.5) rotate(-90)">2021−Mar−12</text>
<text transform="translate(1158.66 1611.5) rotate(-90)">2021−Mar−26</text>
<text transform="translate(1215.63 1611.5) rotate(-90)">2021−Apr−09</text>
<text transform="translate(1272.59 1611.5) rotate(-90)">2021−Apr−23</text>
<text transform="translate(1329.55 1611.5) rotate(-90)">2021−May−07</text>
<text transform="translate(1386.51 1611.5) rotate(-90)">2021−May−21</text>
<text transform="translate(1443.48 1611.5) rotate(-90)">2021−Jun−04</text>
</g>
</g>
<text class="bk" font-size="42" text-anchor="middle" transform="translate(31 785.4) rotate(-90) scale(1 1.025)">Number of Introductions</text>
<text class="bk" font-size="41.6" text-anchor="middle" transform="translate(1575.8 785.9) rotate(90) scale(1 1.01)">Percent positive samples</text>
<g id="legend">
<rect x="1680.2" y="583" width="38.5" height="38.2" fill="#758A57"/>
<text class="bk" transform="translate(1741.4 614.2) scale(1 1.03)" font-size="34.6">20A</text>
<rect x="1680.2" y="626.2" width="38.5" height="38.2" fill="#EB82E0"/>
<text class="bk" transform="translate(1741.4 657.4) scale(1 1.03)" font-size="34.6">20B</text>
<rect x="1680.2" y="669.4" width="38.5" height="38.2" fill="#EDA767"/>
<text class="bk" transform="translate(1741.4 700.6) scale(1 1.03)" font-size="34.6">20C</text>
<rect x="1680.2" y="712.6" width="38.5" height="38.2" fill="#505A7E"/>
<text class="bk" transform="translate(1741.4 743.8) scale(1 1.03)" font-size="34.6">20G</text>
<rect x="1680.2" y="755.8" width="38.5" height="38.2" fill="#FDFD96"/>
<text class="bk" transform="translate(1741.4 787) scale(1 1.03)" font-size="34.6">20H (Beta,V2)</text>
<rect x="1680.2" y="799" width="38.5" height="38.2" fill="#FE8085"/>
<text class="bk" transform="translate(1741.4 830.2) scale(1 1.03)" font-size="34.6">20I (Alpha,V1)</text>
<rect x="1680.2" y="842.2" width="38.5" height="38.2" fill="#9C6B4A"/>
<text class="bk" transform="translate(1741.4 873.4) scale(1 1.03)" font-size="34.6">20J (Gamma,V3)</text>
<rect x="1680.2" y="885.4" width="38.5" height="38.2" fill="#9BCC99"/>
<text class="bk" transform="translate(1741.4 916.6) scale(1 1.03)" font-size="34.6">21C (Epsilon)</text>
<rect x="1680.2" y="928.6" width="38.5" height="38.2" fill="#7C7C7C"/>
<text class="bk" transform="translate(1741.4 959.8) scale(1 1.03)" font-size="34.6">21F (Iota)</text>
<rect x="1680.2" y="971.8" width="38.5" height="38.2" fill="#C5E6FA"/>
<text class="bk" transform="translate(1741.4 1003) scale(1 1.03)" font-size="34.6">21H (Mu)</text>
</g>
</svg>
</body></html>
